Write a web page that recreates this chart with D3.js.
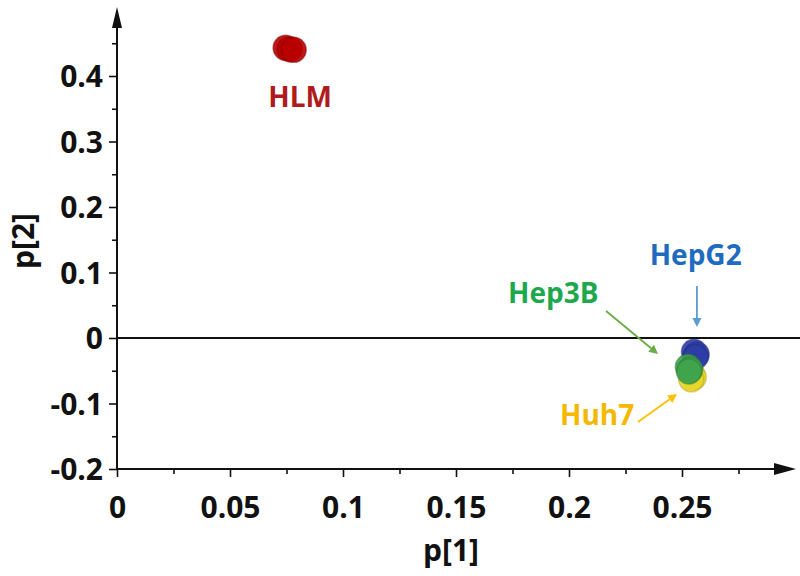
<!DOCTYPE html>
<html>
<head>
<meta charset="utf-8">
<script src="https://cdn.jsdelivr.net/npm/d3@7"></script>
<style>
	body { margin: 0; background: #fff; }
	svg, svg text { font-family: "Open Sans", "DejaVu Sans", sans-serif; }
	svg { display: block; }
	.tick text { font-size: 30px; font-weight: 700; fill: #111; }
	.tick line { stroke: #111; stroke-width: 1.6; }
</style>
</head>
<body>
<svg id="chart" width="800" height="576"></svg>
<script>

// scores
const hlmX = [0.0746, 0.0764, 0.0782];
const hlmY = [0.443, 0.441, 0.440];
const huh7X = [0.2546, 0.2552, 0.2541];
const huh7Y = [-0.056, -0.060, -0.063];
const hepg2X = [0.2553, 0.2565, 0.2560];
const hepg2Y = [-0.021, -0.025, -0.029];
const hep3bX = [0.2526, 0.2536, 0.2531];
const hep3bY = [-0.044, -0.048, -0.051];

const xTicks = [0, 0.05, 0.1, 0.15, 0.2, 0.25];
const xMinor = [0.025, 0.075, 0.125, 0.175, 0.225, 0.275];
const yTicks = [-0.2, -0.1, 0, 0.1, 0.2, 0.3, 0.4];
const yMinor = [-0.15, -0.05, 0.05, 0.15, 0.25, 0.35, 0.45];

const groups = [
	{name: 'Huh7', xs: huh7X, ys: huh7Y, fill: '#e8d62a', edge: '#b8a81a'},
	{name: 'HepG2', xs: hepg2X, ys: hepg2Y, fill: '#2f3da6', edge: '#1e2a80'},
	{name: 'Hep3B', xs: hep3bX, ys: hep3bY, fill: '#3fa44c', edge: '#2a7a34'},
	{name: 'HLM', xs: hlmX, ys: hlmY, fill: '#b80000', edge: '#8a0000'}
];

// label anchors and arrows, in data units
const labels = [
	{text: 'HLM', at: [0.081, 0.353], anchor: 'middle', color: '#b01a1a'},
	{text: 'HepG2', at: [0.2357, 0.1115], anchor: 'start', color: '#1f6bbf'},
	{text: 'Hep3B', at: [0.173, 0.0534], anchor: 'start', color: '#1ea84e'},
	{text: 'Huh7', at: [0.196, -0.133], anchor: 'start', color: '#f5b800'}
];
const arrows = [
	{from: [0.2566, 0.0794], to: [0.2566, 0.0168], color: '#5b9bd5'},
	{from: [0.2164, 0.0412], to: [0.2394, -0.0244], color: '#6aab45'},
	{from: [0.2305, -0.1282], to: [0.2478, -0.0855], color: '#ffc000'}
];

const svg = d3.select('#chart');

const x = d3.scaleLinear().domain([0, 0.25]).range([117, 682]);
const y = d3.scaleLinear().domain([-0.2, 0.4]).range([469, 76]);

const fmt = d => d === 0 ? '0' : String(+d.toFixed(2));

// y axis
const yAxis = svg.append('g').attr('transform', `translate(${x(0)},0)`);
yAxis.call(d3.axisLeft(y).tickValues(yTicks).tickSize(8).tickPadding(6).tickFormat(fmt));
yAxis.append('g').call(d3.axisLeft(y).tickValues(yMinor).tickSize(5).tickFormat(''));
yAxis.selectAll('.domain').remove();
yAxis.selectAll('.tick text').attr('dy', '0.36em');

// x axis
const xAxis = svg.append('g').attr('transform', `translate(0,${y(-0.2)})`);
xAxis.call(d3.axisBottom(x).tickValues(xTicks).tickSize(8).tickPadding(4).tickFormat(fmt));
xAxis.append('g').call(d3.axisBottom(x).tickValues(xMinor).tickSize(5).tickFormat(''));
xAxis.selectAll('.domain').remove();
xAxis.selectAll('.tick text').attr('dy', '1.22em');

// axis lines with arrow heads
svg.append('line')
	.attr('x1', x(0)).attr('x2', x(0))
	.attr('y1', y(-0.2)).attr('y2', 26)
	.attr('stroke', '#111').attr('stroke-width', 2);
svg.append('path')
	.attr('d', `M${x(0)},7 L${x(0) - 5},28 L${x(0) + 5},28 Z`)
	.attr('fill', '#111');

svg.append('line')
	.attr('x1', x(0)).attr('x2', 776)
	.attr('y1', y(-0.2)).attr('y2', y(-0.2))
	.attr('stroke', '#111').attr('stroke-width', 2);
svg.append('path')
	.attr('d', `M796,${y(-0.2)} L774,${y(-0.2) - 6} L774,${y(-0.2) + 6} Z`)
	.attr('fill', '#111');

// zero line
svg.append('line')
	.attr('x1', x(0)).attr('x2', 800)
	.attr('y1', y(0)).attr('y2', y(0))
	.attr('stroke', '#111').attr('stroke-width', 2);

// axis titles
svg.append('text')
	.attr('x', 451).attr('y', 561)
	.attr('text-anchor', 'middle')
	.style('font-size', '30px').style('font-weight', 700).attr('fill', '#111')
	.text('p[1]');
svg.append('text')
	.attr('transform', 'translate(34,241) rotate(-90)')
	.attr('text-anchor', 'middle')
	.style('font-size', '30px').style('font-weight', 700).attr('fill', '#111')
	.text('p[2]');

// points
groups.forEach(g => {
	svg.append('g')
		.selectAll('circle')
		.data(g.xs.map((v, i) => [v, g.ys[i]]))
		.enter()
		.append('circle')
		.attr('cx', d => x(d[0]))
		.attr('cy', d => y(d[1]))
		.attr('r', 12.5)
		.attr('fill', g.fill)
		.attr('fill-opacity', 0.9)
		.attr('stroke', g.edge)
		.attr('stroke-opacity', 0.5)
		.attr('stroke-width', 1.5);
});

// annotation arrows
arrows.forEach(a => {
	const x1 = x(a.from[0]), y1 = y(a.from[1]);
	const x2 = x(a.to[0]), y2 = y(a.to[1]);
	const ang = Math.atan2(y2 - y1, x2 - x1);
	const len = 9, half = 4.5;
	const bx = x2 - len * Math.cos(ang), by = y2 - len * Math.sin(ang);
	svg.append('line')
		.attr('x1', x1).attr('y1', y1).attr('x2', bx).attr('y2', by)
		.attr('stroke', a.color).attr('stroke-width', 1.8);
	svg.append('path')
		.attr('d', `M${x2},${y2} L${bx - half * Math.sin(ang)},${by + half * Math.cos(ang)} L${bx + half * Math.sin(ang)},${by - half * Math.cos(ang)} Z`)
		.attr('fill', a.color);
});

// group labels
svg.append('g')
	.selectAll('text')
	.data(labels)
	.enter()
	.append('text')
	.attr('x', d => x(d.at[0]))
	.attr('y', d => y(d.at[1]))
	.attr('text-anchor', d => d.anchor)
	.style('font-size', '28px').style('font-weight', 700)
	.attr('fill', d => d.color)
	.text(d => d.text);

</script>
</body>
</html>
